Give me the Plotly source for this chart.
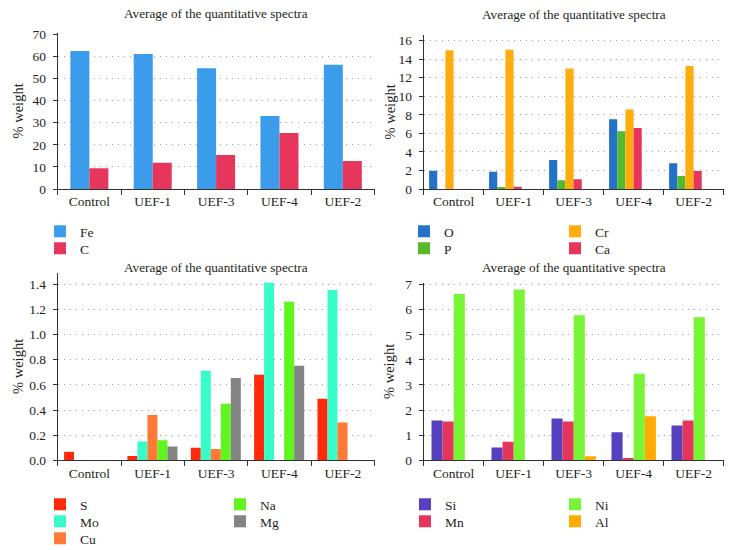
import plotly.graph_objects as go

categories = ["Control", "UEF-1", "UEF-3", "UEF-4", "UEF-2"]

# Panel 1 (top-left)
fe = [62.4, 61.1, 54.6, 33.0, 56.2]
c = [9.4, 11.9, 15.4, 25.3, 12.7]
# Panel 2 (top-right)
o = [1.98, 1.87, 3.13, 7.52, 2.77]
p = [0.0, 0.14, 0.94, 6.22, 1.40]
cr = [14.96, 15.0, 12.99, 8.56, 13.27]
ca = [0.0, 0.25, 1.04, 6.58, 1.94]
# Panel 3 (bottom-left)
s = [0.069, 0.034, 0.10, 0.68, 0.49]
mo = [0.0, 0.149, 0.713, 1.413, 1.355]
cu = [0.0, 0.361, 0.09, 0.0, 0.30]
na = [0.0, 0.159, 0.45, 1.262, 0.0]
mg = [0.0, 0.109, 0.655, 0.753, 0.0]
# Panel 4 (bottom-right)
si = [1.59, 0.51, 1.66, 1.12, 1.39]
mn = [1.55, 0.74, 1.55, 0.09, 1.59]
ni = [6.62, 6.80, 5.78, 3.45, 5.70]
al = [0.0, 0.0, 0.16, 1.75, 0.0]

TITLE = "Average of the quantitative spectra"
Y_TITLE = "% weight"
FONT = "Liberation Serif"
TXT = "#231f20"
W, H = 732, 550

# legend symbol centre positions (px) for each series
legend_px = {
    "Fe": (62, 230), "C": (62, 247),
    "O": (426, 230), "P": (426, 247), "Cr": (577, 230), "Ca": (577, 247),
    "S": (62, 503), "Mo": (62, 520), "Cu": (62, 537), "Na": (242, 503), "Mg": (242, 520),
    "Si": (427, 503), "Mn": (427, 520), "Ni": (577, 503), "Al": (577, 520),
}

panels = [
    ("", [("Fe", fe, "#3b9cec"), ("C", c, "#e6365b")], 0.30, -0.30),
    ("2", [("O", o, "#2471c8"), ("P", p, "#57b92c"),
           ("Cr", cr, "#ffac0c"), ("Ca", ca, "#e6365b")], 0.136, -0.41),
    ("3", [("S", s, "#ff2a0c"), ("Mo", mo, "#37fdc9"),
           ("Cu", cu, "#ff7a36"), ("Na", na, "#5ff51f"),
           ("Mg", mg, "#848484")], 0.158, -0.40),
    ("4", [("Si", si, "#5540c0"), ("Mn", mn, "#e6355b"),
           ("Ni", ni, "#79f436"), ("Al", al, "#ffab00")], 0.185, -0.37),
]


def px_x(v):
    return v / W


def px_y(v):
    return 1 - v / H


fig = go.Figure()
layout = dict(
    width=W, height=H,
    margin=dict(l=0, r=0, t=0, b=0, autoexpand=False),
    paper_bgcolor="white", plot_bgcolor="white",
    barmode="overlay",
    showlegend=True,
    font=dict(family=FONT, size=13, color=TXT),
    annotations=[],
)

leg_idx = 0
for suf, series, bw, start in panels:
    for i, (name, vals, col) in enumerate(series):
        leg_idx += 1
        lname = "legend" if leg_idx == 1 else "legend%d" % leg_idx
        fig.add_trace(go.Bar(
            x=categories, y=vals, name=name,
            xaxis="x" + suf, yaxis="y" + suf,
            width=bw, offset=start + i * bw,
            marker=dict(color=col, line=dict(width=0)),
            legend=lname, showlegend=True,
        ))
        cx, cy = legend_px[name]
        layout[lname] = dict(
            orientation="v", xanchor="left", yanchor="top",
            x=px_x(cx - 22), y=px_y(cy - 14),
            bgcolor="rgba(0,0,0,0)", borderwidth=0,
            font=dict(family=FONT, size=13.5, color=TXT),
            itemwidth=30, itemclick=False, itemdoubleclick=False,
        )

xdom_left = [px_x(57.7), px_x(374.5)]
xdom_right = [px_x(423.7), px_x(723.7)]
ydoms = {
    "": [px_y(189), px_y(33.3)],
    "2": [px_y(189), px_y(35)],
    "3": [px_y(460.3), px_y(273)],
    "4": [px_y(460.3), px_y(283.3)],
}
yranges = {"": [0, 70.45], "2": [0, 16.6], "3": [0, 1.49], "4": [0, 7.05]}
ydticks = {"": 10, "2": 2, "3": 0.2, "4": 1}
yfmt = {"": "d", "2": "d", "3": ".1f", "4": "d"}
ytitle_px = {"": (17.5, 111), "2": (389.5, 112), "3": (18, 367), "4": (389, 372)}

for suf in ["", "2", "3", "4"]:
    left = suf in ("", "3")
    layout["xaxis" + suf] = dict(
        domain=xdom_left if left else xdom_right,
        anchor="y" + suf,
        type="category",
        range=[-0.5, 4.5],
        showline=True, linecolor="#333333", linewidth=1,
        ticks="outside", ticklen=5, tickcolor="#333333",
        tickson="boundaries",
        showgrid=False, zeroline=False,
        tickfont=dict(family=FONT, size=13.5, color=TXT),
        fixedrange=True, automargin=False,
    )
    layout["yaxis" + suf] = dict(
        domain=ydoms[suf],
        anchor="x" + suf,
        range=yranges[suf],
        dtick=ydticks[suf], tick0=0,
        tickformat=yfmt[suf],
        showline=True, linecolor="#333333", linewidth=1,
        ticks="outside", ticklen=4, tickcolor="#333333",
        ticklabelstandoff=4,
        showgrid=True, gridcolor="#a0a0a0", gridwidth=1, griddash="1px,5px",
        zeroline=False,
        tickfont=dict(family=FONT, size=13.5, color=TXT),
        fixedrange=True, automargin=False,
    )
    tx, ty = ytitle_px[suf]
    layout["annotations"].append(dict(
        text=Y_TITLE, xref="paper", yref="paper",
        x=px_x(tx), y=px_y(ty), xanchor="center", yanchor="middle",
        textangle=-90, showarrow=False,
        font=dict(family=FONT, size=14.5, color=TXT),
    ))

# subplot titles
for xc, yc in [((57.7 + 374.5) / 2, 13.5), ((423.7 + 723.7) / 2, 14),
               ((57.7 + 374.5) / 2, 267), ((423.7 + 723.7) / 2, 267)]:
    layout["annotations"].append(dict(
        text=TITLE, xref="paper", yref="paper",
        x=px_x(xc), y=px_y(yc), xanchor="center", yanchor="middle",
        showarrow=False, font=dict(family=FONT, size=13.2, color=TXT),
    ))

fig.update_layout(**layout)
fig.write_html(
    "out.html",
    config={"displayModeBar": False},
    post_script="document.body.style.margin='0';document.body.style.overflow='hidden';",
)
